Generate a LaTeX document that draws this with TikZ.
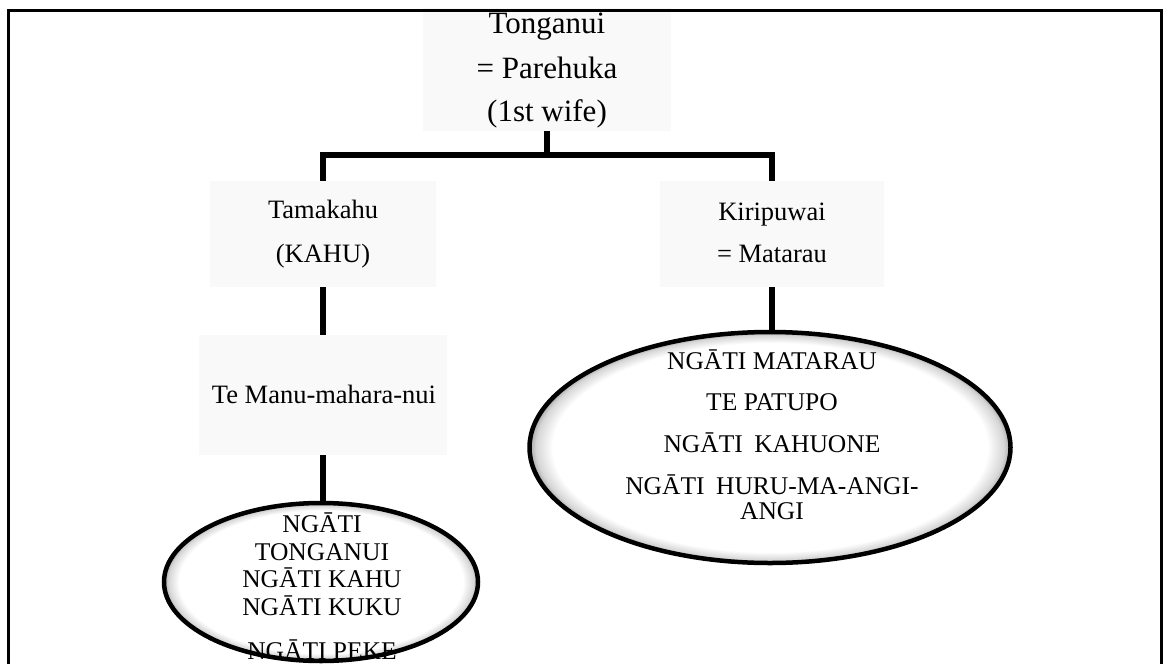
\documentclass[tikz,border=0pt]{standalone}
\usepackage{fontspec}
\setmainfont{Liberation Serif}
\usetikzlibrary{shapes.geometric}
% soft inner glow for the clan ellipses: white centre, grey only near the rim
\pgfdeclareradialshading{clanglow}{\pgfpoint{0bp}{0bp}}{%
  color(0bp)=(white); color(22.6bp)=(white); color(24.3bp)=(black!16);
  color(25bp)=(black!35); color(50bp)=(black!35)}
\begin{document}
\begin{tikzpicture}[x=1pt,y=-1pt,
  panel/.style={fill=black!2.5, draw=none, inner sep=0pt},
  clan/.style={ellipse, draw=black, line width=4.5pt, shading=clanglow, inner sep=0pt},
  toptext/.style={anchor=base, inner sep=0pt, font=\fontsize{31}{36}\selectfont},
  nametext/.style={anchor=base, inner sep=0pt, font=\fontsize{26.5}{31}\selectfont},
  clantext/.style={anchor=base, inner sep=0pt, font=\fontsize{25.5}{30}\selectfont},
  stem/.style={line width=5.5pt},
]
\useasboundingbox (0,0) rectangle (1165,664);

% shaded panels behind the names
\node[panel, minimum width=248pt, minimum height=123pt] (top)  at (547,69.5) {};
\node[panel, minimum width=226pt, minimum height=106pt] (tama) at (323,234) {};
\node[panel, minimum width=224pt, minimum height=106pt] (kiri) at (772,234) {};
\node[panel, minimum width=248pt, minimum height=120pt] (manu) at (323,395) {};

% page frame, open at the bottom
\draw[line width=3.5pt] (8.5,700) -- (8.5,10.5) -- (1161.5,10.5) -- (1161.5,700);

% clan ellipses
\node[clan, minimum width=314pt, minimum height=158pt] (clanL) at (321,582) {};
\node[clan, minimum width=481pt, minimum height=231pt] (clanR) at (770,447.5) {};

% names
\node[toptext] (t1) at (547,33)  {Tonganui};
\node[toptext] (t2) at (547,78.5) {= Parehuka};
\node[toptext] (t3) at (547,121) {(1st wife)};

\node[nametext] (ta1) at (323,218) {Tamakahu};
\node[nametext] (ta2) at (323,262) {(KAHU)};
\node[nametext] (ki1) at (772,220) {Kiripuwai};
\node[nametext] (ki2) at (772,262) {= Matarau};
\node[nametext] (mn1) at (324,403) {Te Manu-mahara-nui};

% hapu names in the ellipses
\node[clantext] (l1) at (322,532) {NGĀTI};
\node[clantext] (l2) at (322,560) {TONGANUI};
\node[clantext] (l3) at (322,587) {NGĀTI KAHU};
\node[clantext] (l4) at (322,615) {NGĀTI KUKU};
\node[clantext] (l5) at (322,659) {NGĀTI PEKE};

\node[clantext] (r1) at (772,369) {NGĀTI MATARAU};
\node[clantext] (r2) at (772,410) {TE PATUPO};
\node[clantext] (r3) at (772,452) {NGĀTI\hspace{0.45em}KAHUONE};
\node[clantext] (r4) at (772,494) {NGĀTI\hspace{0.45em}HURU-MA-ANGI-};
\node[clantext] (r5) at (772,519) {ANGI};

% descent lines
\coordinate (bar) at (547,155);
\draw[stem] (top.south) -- (top.south |- bar);
\draw[stem] (tama.north) |- (bar) -| (kiri.north);
\draw[stem] (tama.south) -- (manu.north);
\draw[stem] (manu.south) -- (manu.south |- clanL.north);
\draw[stem] (kiri.south) -- (kiri.south |- clanR.north);
\end{tikzpicture}
\end{document}
